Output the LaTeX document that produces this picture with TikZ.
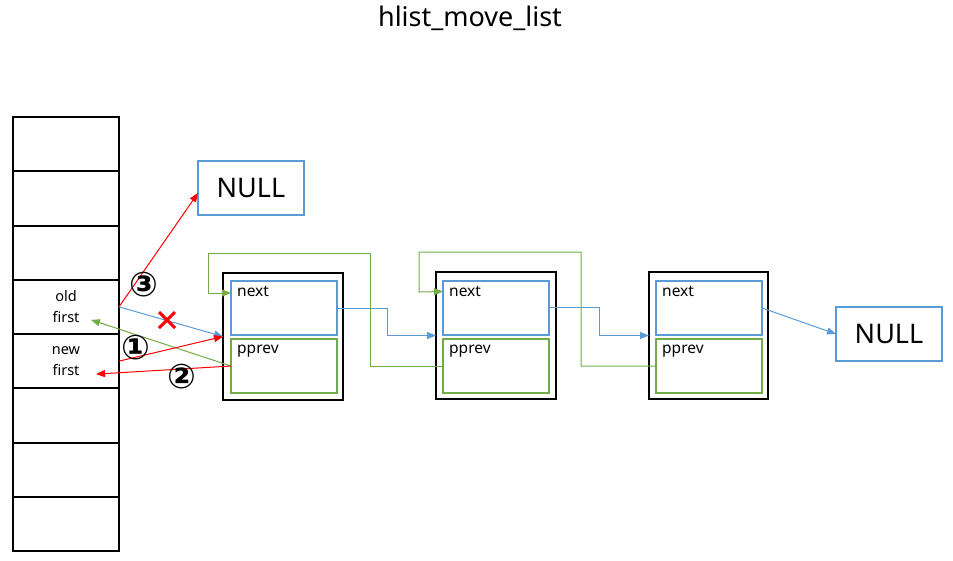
\documentclass[tikz,border=0pt]{standalone}
\usepackage{fontspec}
\setmainfont{Noto Sans}
\newfontfamily\symfont{DejaVu Sans}
\usetikzlibrary{arrows.meta,calc}
\definecolor{bl}{RGB}{91,155,213}
\definecolor{gr}{RGB}{112,173,71}
\definecolor{rd}{RGB}{255,0,0}
\begin{document}
\begin{tikzpicture}[x=1pt,y=-1pt,
  cell/.style={draw=black,line width=2pt,minimum width=106pt,minimum height=54.25pt,inner sep=0pt,outer sep=0pt,align=center,font=\fontsize{14.5}{21}\selectfont},
  outerbox/.style={draw=black,line width=2.5pt,minimum width=120pt,minimum height=127pt,inner sep=0pt,outer sep=0pt},
  nextbox/.style={draw=bl,line width=2pt,minimum width=106pt,minimum height=54pt,inner sep=0pt,outer sep=0pt},
  prevbox/.style={draw=gr,line width=2pt,minimum width=106pt,minimum height=54pt,inner sep=0pt,outer sep=0pt},
  nullbox/.style={draw=bl,line width=2pt,minimum width=106pt,minimum height=54pt,inner sep=0pt,outer sep=0pt,font=\fontsize{27}{30}\selectfont},
  fieldtxt/.style={anchor=base west,inner sep=0pt,font=\fontsize{15.5}{17}\selectfont},
  tip/.style={-{Triangle[length=9pt,width=7pt]}},
  bluec/.style={draw=bl,line width=1pt,tip},
  greenc/.style={draw=gr,line width=1pt,tip},
  redc/.style={draw=rd,line width=1pt,tip},
  numlbl/.style={inner sep=0pt,font=\symfont\bfseries\fontsize{34}{36}\selectfont}
]
\useasboundingbox (0,0) rectangle (953,560);
% title
\node[font=\fontsize{27}{30}\selectfont] (title) at (470,18) {hlist\_move\_list};
% left column
\foreach \i in {0,1,2,5,6,7} {
  \node[cell] (c\i) at (66,{144.125+54.25*\i}) {};
}
\node[cell] (c3) at (66,{144.125+54.25*3}) {old\\first};
\node[cell] (c4) at (66,{144.125+54.25*4}) {new\\first};
% list nodes
\node[outerbox] (o1) at (283,336.5) {};
\node[outerbox] (o2) at (496,335.5) {};
\node[outerbox,minimum width=119pt] (o3) at (708.5,335.5) {};
\node[nextbox] (n1next) at (284,308) {};
\node[prevbox] (n1prev) at (284,366) {};
\node[nextbox] (n2next) at (496,307.5) {};
\node[prevbox] (n2prev) at (496,366) {};
\node[nextbox] (n3next) at (709,308) {};
\node[prevbox] (n3prev) at (709,366) {};
\node[fieldtxt] (t1n) at (237,296) {next};
\node[fieldtxt] (t1p) at (237,353) {pprev};
\node[fieldtxt] (t2n) at (449,296) {next};
\node[fieldtxt] (t2p) at (449,353) {pprev};
\node[fieldtxt] (t3n) at (662,296) {next};
\node[fieldtxt] (t3p) at (662,353) {pprev};
% NULL boxes
\node[nullbox] (null1) at (251,188) {NULL};
\node[nullbox] (null2) at (889,334) {NULL};
% next links
\draw[bluec] (n1next.east) -- ++(50,0) |- (o2.west);
\draw[bluec] (n2next.east) -- ++(50,0) |- (o3.west);
\draw[bluec] (n3next.east) -- (null2.west);
% pprev links
\draw[greenc] (n2prev.west) -| (370,253) -| (208,293) -- ($(n1next.north west)+(0,12)$);
\draw[greenc] (n3prev.west) -| (581,252) -| (419,292) -- ($(n2next.north west)+(0,11)$);
% head links
\draw[bluec] (c3.east) -- (o1.west);
\draw[greenc] (n1prev.west) -- ($(c3.center)+(25,13)$);
\draw[redc] (c4.east) -- (o1.west);
\draw[redc] (n1prev.west) -- ($(c4.center)+(30,13)$);
\draw[redc] (c3.east) -- ($(null1.west)+(0,5)$);
% cross
\coordinate (xmark) at (167,320);
\draw[rd,line width=3pt] ($(xmark)+(-8,-8)$) -- ($(xmark)+(8,8)$);
\draw[rd,line width=3pt] ($(xmark)+(-8,8)$) -- ($(xmark)+(8,-8)$);
% step labels
\node[numlbl] (l1) at (136,348) {①};
\node[numlbl] (l2) at (181.5,377) {②};
\node[numlbl] (l3) at (144,285) {③};
\end{tikzpicture}
\end{document}
